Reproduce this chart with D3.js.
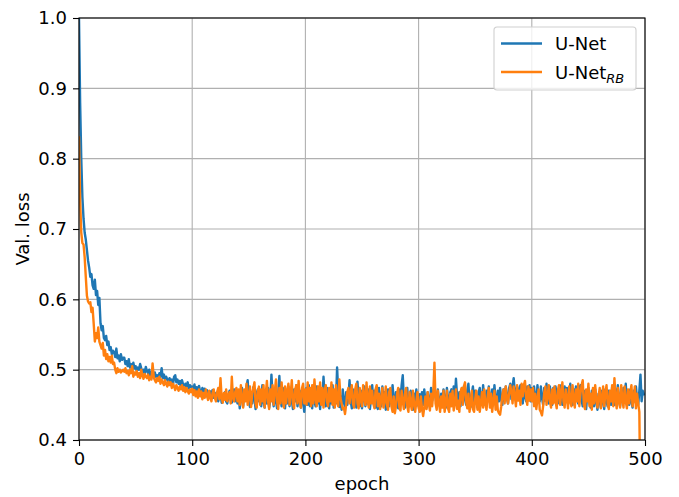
<!DOCTYPE html>
<html>
<head>
<meta charset="utf-8">
<script src="https://cdn.jsdelivr.net/npm/d3@7"></script>
<style>
  html, body { margin: 0; padding: 0; background: #fff; }
  svg { display: block; font-family: "DejaVu Sans", sans-serif; }
</style>
</head>
<body>
<svg id="chart" width="679" height="497"></svg>
<script>
// ---- data ----
const seriesNames = ["U-Net", "U-Net_RB"];
const seriesColors = ["#1f77b4", "#ff7f0e"];
const xTicks = [0, 100, 200, 300, 400, 500];
const yTicks = [0.4, 0.5, 0.6, 0.7, 0.8, 0.9, 1.0];

const unet = [
1.0,0.88,0.80,0.745,0.715,0.695,0.685,0.67,0.655,0.645,0.632,0.636,0.62,0.615,0.628,0.606,0.612,0.592,0.602,0.566,
0.556,0.562,0.545,0.542,0.548,0.535,0.54,0.528,0.532,0.522,0.527,0.525,0.518,0.53,0.516,0.52,0.512,0.522,0.514,0.517,
0.517,0.508,0.512,0.505,0.515,0.503,0.508,0.5,0.51,0.502,0.505,0.498,0.503,0.5,0.508,0.502,0.497,0.5,0.494,0.504,
0.498,0.495,0.5,0.49,0.497,0.493,0.488,0.496,0.49,0.492,0.487,0.495,0.49,0.502,0.488,0.493,0.485,0.49,0.486,0.482,
0.488,0.483,0.486,0.478,0.49,0.492,0.482,0.486,0.48,0.484,0.476,0.485,0.479,0.474,0.48,0.476,0.482,0.473,0.478,0.475,
0.476,0.47,0.479,0.468,0.475,0.466,0.477,0.469,0.464,0.474,0.466,0.473,0.462,0.471,0.465,0.46,0.469,0.462,0.471,0.46,
0.467,0.458,0.466,0.455,0.463,0.469,0.453,0.464,0.458,0.468,0.455,0.452,0.464,0.47,0.457,0.453,0.466,0.472,0.455,0.463,
0.452,0.468,0.445,0.462,0.474,0.448,0.466,0.456,0.476,0.485,0.458,0.447,0.468,0.452,0.475,0.46,0.444,0.466,0.472,0.455,
0.47,0.448,0.478,0.455,0.446,0.468,0.452,0.474,0.446,0.458,0.493,0.462,0.448,0.47,0.455,0.445,0.466,0.491,0.458,0.448,
0.474,0.455,0.445,0.468,0.452,0.476,0.448,0.47,0.456,0.444,0.472,0.455,0.478,0.448,0.462,0.47,0.446,0.468,0.455,0.44,
0.462,0.474,0.45,0.478,0.448,0.466,0.445,0.47,0.455,0.448,0.476,0.452,0.466,0.444,0.47,0.458,0.49,0.462,0.448,0.474,
0.455,0.445,0.47,0.452,0.478,0.446,0.466,0.452,0.503,0.468,0.447,0.462,0.443,0.472,0.455,0.446,0.468,0.45,0.462,0.485,
0.456,0.445,0.472,0.452,0.466,0.446,0.483,0.458,0.448,0.47,0.445,0.462,0.476,0.448,0.466,0.452,0.472,0.444,0.46,0.478,
0.452,0.47,0.446,0.466,0.444,0.474,0.455,0.448,0.476,0.452,0.468,0.443,0.462,0.472,0.448,0.466,0.452,0.478,0.458,0.446,
0.468,0.452,0.445,0.472,0.456,0.478,0.492,0.458,0.446,0.465,0.474,0.447,0.455,0.47,0.452,0.443,0.466,0.45,0.472,0.455,
0.448,0.465,0.442,0.468,0.45,0.472,0.455,0.446,0.468,0.455,0.448,0.474,0.456,0.466,0.476,0.46,0.45,0.472,0.455,0.448,
0.466,0.452,0.472,0.455,0.446,0.474,0.458,0.447,0.468,0.472,0.452,0.476,0.458,0.487,0.462,0.45,0.468,0.448,0.472,0.455,
0.476,0.458,0.45,0.47,0.48,0.455,0.447,0.466,0.476,0.452,0.47,0.456,0.446,0.468,0.474,0.455,0.45,0.478,0.458,0.45,
0.47,0.455,0.476,0.458,0.45,0.472,0.455,0.478,0.458,0.448,0.47,0.455,0.474,0.458,0.45,0.472,0.456,0.476,0.46,0.452,
0.474,0.48,0.458,0.476,0.488,0.468,0.456,0.476,0.458,0.472,0.478,0.46,0.452,0.476,0.462,0.455,0.476,0.46,0.478,0.455,
0.474,0.456,0.476,0.46,0.452,0.478,0.46,0.455,0.476,0.46,0.45,0.474,0.456,0.48,0.46,0.452,0.476,0.458,0.45,0.474,
0.455,0.476,0.46,0.452,0.474,0.455,0.478,0.45,0.462,0.476,0.455,0.474,0.452,0.462,0.48,0.456,0.45,0.472,0.455,0.476,
0.46,0.452,0.474,0.478,0.456,0.448,0.47,0.455,0.444,0.466,0.474,0.452,0.446,0.47,0.458,0.448,0.472,0.455,0.443,0.466,
0.455,0.446,0.47,0.455,0.444,0.472,0.456,0.448,0.47,0.458,0.45,0.476,0.458,0.45,0.472,0.455,0.478,0.458,0.448,0.47,
0.455,0.474,0.458,0.48,0.452,0.47,0.45,0.472,0.455,0.446,0.47,0.455,0.476,0.458,0.45,0.47,0.493,0.455,0.47,0.465
];

const unetRB = [
0.83,0.74,0.695,0.68,0.678,0.66,0.632,0.605,0.597,0.594,0.596,0.582,0.588,0.565,0.54,0.552,0.545,0.56,0.54,0.535,
0.53,0.538,0.52,0.528,0.515,0.522,0.512,0.518,0.51,0.52,0.508,0.51,0.5,0.495,0.502,0.497,0.5,0.496,0.498,0.5,
0.497,0.502,0.495,0.498,0.492,0.5,0.495,0.505,0.49,0.496,0.493,0.498,0.49,0.495,0.488,0.5,0.492,0.487,0.494,0.49,
0.488,0.493,0.485,0.49,0.486,0.509,0.49,0.485,0.482,0.488,0.484,0.49,0.48,0.486,0.482,0.478,0.485,0.48,0.476,0.483,
0.478,0.482,0.474,0.48,0.476,0.471,0.478,0.474,0.47,0.476,0.472,0.478,0.47,0.475,0.468,0.474,0.47,0.466,0.472,0.468,
0.473,0.464,0.471,0.462,0.469,0.46,0.472,0.462,0.469,0.458,0.467,0.46,0.472,0.463,0.457,0.47,0.46,0.455,0.467,0.472,
0.46,0.455,0.468,0.474,0.458,0.488,0.46,0.453,0.467,0.457,0.472,0.455,0.463,0.468,0.452,0.49,0.46,0.455,0.468,0.474,
0.455,0.472,0.45,0.478,0.458,0.446,0.472,0.455,0.48,0.45,0.462,0.476,0.447,0.466,0.474,0.482,0.452,0.446,0.47,0.476,
0.45,0.472,0.455,0.478,0.446,0.466,0.484,0.455,0.444,0.472,0.455,0.478,0.45,0.47,0.486,0.455,0.444,0.474,0.452,0.482,
0.458,0.446,0.476,0.452,0.47,0.48,0.45,0.466,0.485,0.452,0.445,0.472,0.478,0.452,0.484,0.456,0.446,0.474,0.48,0.452,
0.472,0.45,0.482,0.455,0.474,0.448,0.478,0.452,0.486,0.46,0.448,0.476,0.455,0.482,0.45,0.474,0.446,0.47,0.478,0.455,
0.448,0.474,0.455,0.482,0.45,0.472,0.446,0.478,0.455,0.448,0.486,0.46,0.452,0.444,0.446,0.437,0.45,0.468,0.474,0.452,
0.466,0.478,0.452,0.446,0.472,0.48,0.452,0.445,0.474,0.458,0.448,0.478,0.46,0.45,0.482,0.455,0.446,0.476,0.452,0.47,
0.452,0.445,0.472,0.478,0.448,0.466,0.444,0.458,0.474,0.446,0.456,0.476,0.45,0.443,0.468,0.474,0.448,0.44,0.462,0.438,
0.448,0.466,0.474,0.446,0.442,0.47,0.455,0.444,0.466,0.474,0.448,0.44,0.468,0.452,0.443,0.47,0.452,0.44,0.455,0.468,
0.446,0.44,0.462,0.445,0.434,0.446,0.462,0.444,0.468,0.452,0.442,0.466,0.448,0.468,0.51,0.452,0.443,0.47,0.452,0.44,
0.462,0.446,0.47,0.44,0.452,0.47,0.445,0.44,0.466,0.448,0.47,0.442,0.452,0.472,0.444,0.456,0.44,0.468,0.474,0.45,
0.476,0.482,0.455,0.445,0.466,0.44,0.452,0.47,0.444,0.44,0.458,0.47,0.443,0.462,0.44,0.452,0.468,0.446,0.472,0.452,
0.443,0.462,0.474,0.446,0.466,0.44,0.455,0.47,0.443,0.462,0.442,0.438,0.436,0.448,0.464,0.472,0.452,0.476,0.46,0.452,
0.466,0.478,0.468,0.452,0.476,0.462,0.448,0.478,0.456,0.47,0.45,0.48,0.462,0.478,0.484,0.46,0.45,0.476,0.456,0.472,
0.455,0.474,0.448,0.466,0.444,0.458,0.472,0.443,0.44,0.435,0.448,0.468,0.476,0.45,0.462,0.478,0.455,0.446,0.472,0.452,
0.476,0.455,0.445,0.47,0.478,0.45,0.466,0.482,0.455,0.446,0.472,0.458,0.445,0.476,0.455,0.448,0.478,0.458,0.446,0.472,
0.455,0.48,0.448,0.466,0.478,0.485,0.45,0.444,0.472,0.455,0.48,0.448,0.466,0.443,0.474,0.452,0.478,0.458,0.446,0.462,
0.474,0.445,0.458,0.476,0.448,0.466,0.478,0.452,0.444,0.47,0.455,0.478,0.448,0.488,0.458,0.445,0.474,0.455,0.446,0.478,
0.458,0.446,0.476,0.455,0.445,0.472,0.452,0.466,0.478,0.448,0.458,0.476,0.445,0.466,0.452,0.44,0.30
];

// ---- layout ----
const W = 679, H = 497;
const margin = {left: 79, right: 34, top: 18, bottom: 57};
const pw = W - margin.left - margin.right;
const ph = H - margin.top - margin.bottom;
const FONT = 18;

const svg = d3.select("#chart");
const g = svg.append("g").attr("transform", `translate(${margin.left},${margin.top})`);

const x = d3.scaleLinear().domain([0, 500]).range([0, pw]);
const y = d3.scaleLinear().domain([0.4, 1.0]).range([ph, 0]);

// grid
g.append("g").selectAll("line").data(xTicks).join("line")
  .attr("x1", d => x(d)).attr("x2", d => x(d)).attr("y1", 0).attr("y2", ph)
  .attr("stroke", "#b0b0b0").attr("stroke-width", 1.1);
g.append("g").selectAll("line").data(yTicks).join("line")
  .attr("y1", d => y(d)).attr("y2", d => y(d)).attr("x1", 0).attr("x2", pw)
  .attr("stroke", "#b0b0b0").attr("stroke-width", 1.1);

// clip
svg.append("defs").append("clipPath").attr("id", "clip")
  .append("rect").attr("width", pw).attr("height", ph);

const line = d3.line().x((d, i) => x(i)).y(d => y(d));
const plot = g.append("g").attr("clip-path", "url(#clip)");
[unet, unetRB].forEach((s, k) => {
  plot.append("path").datum(s)
    .attr("d", line)
    .attr("fill", "none")
    .attr("stroke", seriesColors[k])
    .attr("stroke-width", 2.4)
    .attr("stroke-linejoin", "round")
    .attr("stroke-linecap", "square");
});

// axes
const xAxis = g.append("g").attr("transform", `translate(0,${ph})`)
  .call(d3.axisBottom(x).tickValues(xTicks).tickFormat(d3.format("d")).tickSize(6).tickPadding(6));
const yAxis = g.append("g")
  .call(d3.axisLeft(y).tickValues(yTicks).tickFormat(d3.format(".1f")).tickSize(6).tickPadding(6));
[xAxis, yAxis].forEach(a => {
  a.select(".domain").remove();
  a.selectAll(".tick line").attr("stroke", "#000").attr("stroke-width", 1.1);
  a.selectAll(".tick text").attr("fill", "#000")
    .style("font-family", "DejaVu Sans").style("font-size", FONT + "px");
});

// spines
g.append("rect").attr("width", pw).attr("height", ph)
  .attr("fill", "none").attr("stroke", "#000").attr("stroke-width", 1.1);

// axis labels
svg.append("text").attr("x", margin.left + pw / 2).attr("y", 490)
  .attr("text-anchor", "middle").style("font-size", FONT + "px").text("epoch");
svg.append("text").attr("transform", `translate(29,${margin.top + ph / 2}) rotate(-90)`)
  .attr("text-anchor", "middle").style("font-size", FONT + "px").text("Val. loss");

// legend
const lg = svg.append("g").attr("transform", "translate(494,27)");
lg.append("rect").attr("width", 142).attr("height", 63).attr("rx", 3)
  .attr("fill", "#fff").attr("fill-opacity", 0.8)
  .attr("stroke", "#d0d0d0").attr("stroke-width", 1.1);
[0, 1].forEach(k => {
  const cy = 16.5 + k * 28.5;
  lg.append("line").attr("x1", 7).attr("x2", 48).attr("y1", cy).attr("y2", cy)
    .attr("stroke", seriesColors[k]).attr("stroke-width", 2.4);
  const t = lg.append("text").attr("x", 61).attr("y", cy + 6.5).style("font-size", FONT + "px");
  const parts = seriesNames[k].split("_");
  t.append("tspan").text(parts[0]);
  if (parts[1]) {
    t.append("tspan").attr("dy", 4).style("font-size", (FONT * 0.72) + "px")
      .style("font-style", "italic").text(parts[1]);
  }
});
</script>
</body>
</html>
